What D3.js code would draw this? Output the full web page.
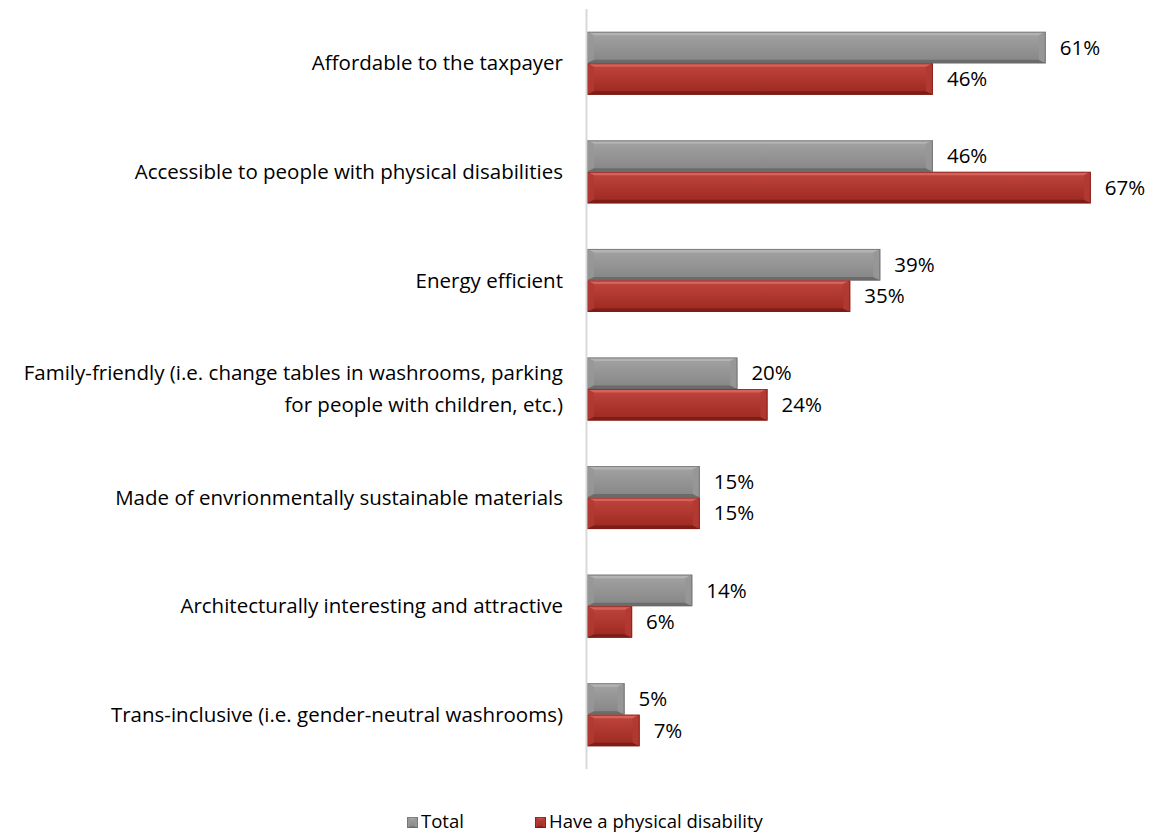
<!DOCTYPE html>
<html>
<head>
<meta charset="utf-8">
<script src="https://cdn.jsdelivr.net/npm/d3@7"></script>
<style>
  html, body { margin: 0; padding: 0; background: #fff; }
  svg { display: block; }
  text { font-family: "Open Sans", "Liberation Sans", sans-serif; fill: #000; }
</style>
</head>
<body>
<svg id="chart" width="1151" height="834"></svg>
<script>
// Survey items (top to bottom) and shares for each group, in percent
const categories = [
  ["Affordable to the taxpayer"],
  ["Accessible to people with physical disabilities"],
  ["Energy efficient"],
  ["Family-friendly (i.e. change tables in washrooms, parking", "for people with children, etc.)"],
  ["Made of envrionmentally sustainable materials"],
  ["Architecturally interesting and attractive"],
  ["Trans-inclusive (i.e. gender-neutral washrooms)"]
];
const seriesNames = ["Total", "Have a physical disability"];
const totalValues = [61, 46, 39, 20, 15, 14, 5];
const disabilityValues = [46, 67, 35, 24, 15, 6, 7];

const palette = [
  { id: "g", top: "#a3a3a3", bottom: "#858585", light: "#b8b8b8", dark: "#5f5f5f", side: "#979797", edge: "#6a6a6a" },
  { id: "r", top: "#c0463e", bottom: "#9c2820", light: "#dd6a61", dark: "#6e1812", side: "#b23a32", edge: "#7a1d16" }
];

const svg = d3.select("#chart");
const defs = svg.append("defs");
palette.forEach(c => {
  const gr = defs.append("linearGradient").attr("id", "face-" + c.id)
    .attr("x1", 0).attr("y1", 0).attr("x2", 0).attr("y2", 1);
  gr.append("stop").attr("offset", "0%").attr("stop-color", c.top);
  gr.append("stop").attr("offset", "100%").attr("stop-color", c.bottom);
});

const margin = { left: 587, top: 9, bottom: 65 };
const plotH = 834 - margin.top - margin.bottom;
const FS = 20.5;

const x = d3.scaleLinear().domain([0, 100]).range([margin.left, margin.left + 752]);
const y = d3.scaleBand().domain(d3.range(categories.length))
  .range([margin.top, margin.top + plotH]).paddingInner(0.42).paddingOuter(0.21);
const ySub = d3.scaleBand().domain([0, 1]).range([0, y.bandwidth()]);

const rows = categories.map((c, i) => ({ i, label: c, vals: [totalValues[i], disabilityValues[i]] }));

// Beveled bar: gradient face plus four trapezoid edges in lighter/darker shades
function bevelBar(g, x0, y0, w, h, col, bev) {
  const b = Math.min(bev, w / 2, h / 2);
  g.append("rect").attr("x", x0).attr("y", y0).attr("width", w).attr("height", h)
    .attr("fill", "url(#face-" + col.id + ")");
  const pts = {
    top: [[x0, y0], [x0 + w, y0], [x0 + w - b, y0 + b * 0.5], [x0 + b, y0 + b * 0.5]],
    left: [[x0, y0], [x0 + b, y0 + b * 0.5], [x0 + b, y0 + h - b * 0.5], [x0, y0 + h]],
    bottom: [[x0, y0 + h], [x0 + b, y0 + h - b * 0.5], [x0 + w - b, y0 + h - b * 0.5], [x0 + w, y0 + h]],
    right: [[x0 + w, y0], [x0 + w, y0 + h], [x0 + w - b, y0 + h - b * 0.5], [x0 + w - b, y0 + b * 0.5]]
  };
  const fills = { top: col.light, left: col.side, bottom: col.dark, right: col.side };
  const ops = { top: 0.8, left: 0.8, bottom: 0.7, right: 0.9 };
  Object.keys(pts).forEach(k => {
    g.append("polygon").attr("points", pts[k].map(p => p.join(",")).join(" "))
      .attr("fill", fills[k]).attr("opacity", ops[k]);
  });
  g.append("rect").attr("x", x0 + 0.5).attr("y", y0 + 0.5).attr("width", Math.max(0, w - 1)).attr("height", h - 1)
    .attr("fill", "none").attr("stroke", col.edge).attr("stroke-opacity", 0.7);
}

const bars = svg.append("g");
rows.forEach(r => {
  r.vals.forEach((v, s) => {
    const y0 = y(r.i) + ySub(s);
    bevelBar(bars, x(0), y0, x(v) - x(0), ySub.bandwidth(), palette[s], 7);
    bars.append("text")
      .attr("x", x(v) + 14).attr("y", y0 + ySub.bandwidth() / 2)
      .attr("dy", "0.35em").attr("font-size", FS)
      .text(v + "%");
  });
});

// Category axis line
svg.append("line")
  .attr("x1", x(0) - 0.5).attr("x2", x(0) - 0.5)
  .attr("y1", margin.top).attr("y2", margin.top + plotH)
  .attr("stroke", "#d9d9d9").attr("stroke-width", 2);

// Category labels, right aligned to the axis
const labels = svg.append("g");
rows.forEach(r => {
  const cy = y(r.i) + y.bandwidth() / 2;
  const n = r.label.length;
  const lh = 32;
  r.label.forEach((line, k) => {
    labels.append("text")
      .attr("x", x(0) - 24)
      .attr("y", cy + (k - (n - 1) / 2) * lh)
      .attr("dy", "0.35em")
      .attr("text-anchor", "end")
      .attr("font-size", FS)
      .text(line);
  });
});

// Legend
const legend = svg.append("g");
const legendItems = [
  { name: seriesNames[0], x: 407 },
  { name: seriesNames[1], x: 535 }
];
legendItems.forEach((it, s) => {
  bevelBar(legend, it.x, 817, 11, 11, palette[s], 3);
  legend.append("text").attr("x", it.x + 14).attr("y", 822).attr("dy", "0.35em")
    .attr("font-size", 18.5).text(it.name);
});
</script>
</body>
</html>
